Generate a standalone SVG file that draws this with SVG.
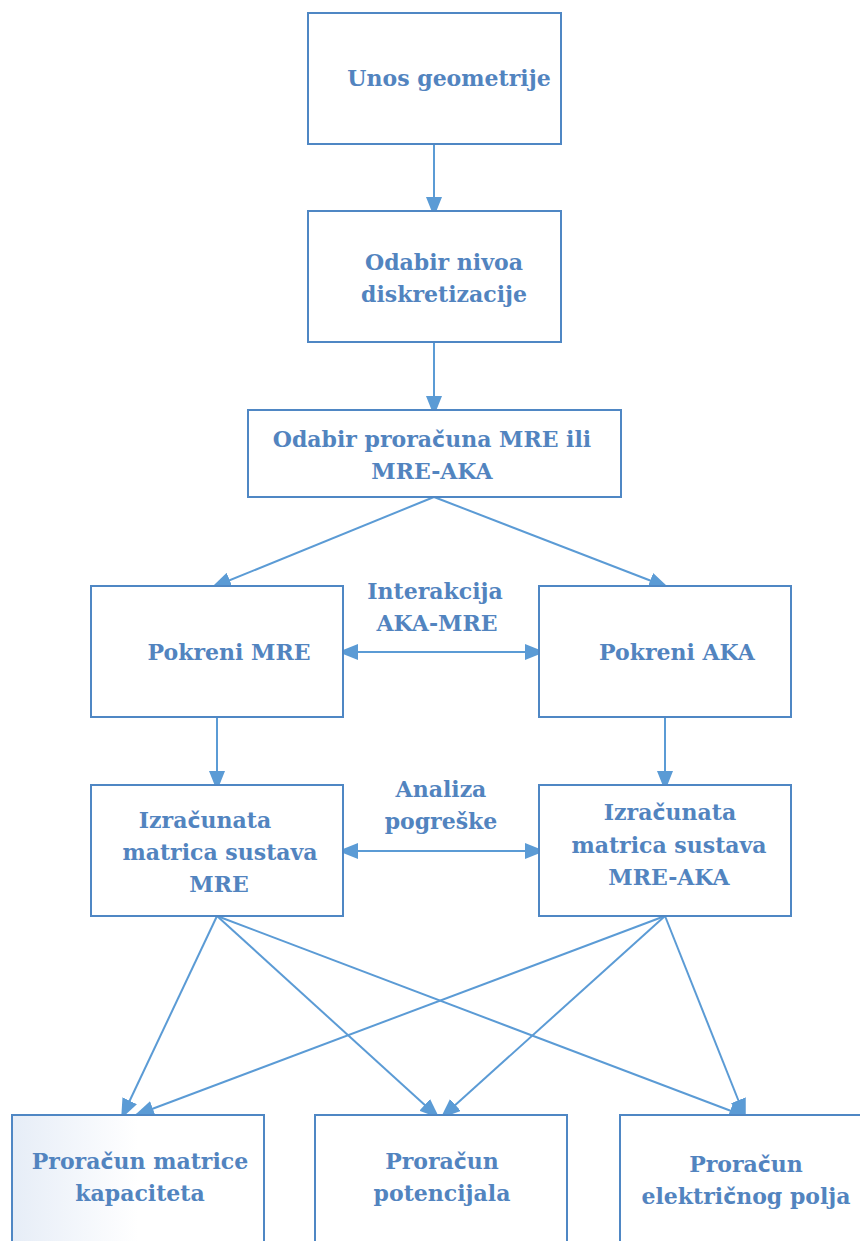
<svg xmlns="http://www.w3.org/2000/svg" width="860" height="1241" viewBox="0 0 860 1241">
<defs>
<style>
.box{fill:#fff;stroke:#4f87c4;stroke-width:2}
.t{font-family:"DejaVu Serif","Liberation Serif",serif;font-weight:bold;font-size:22px;fill:#5284bf;text-anchor:middle}
.c{font-family:"DejaVu Sans","Liberation Sans",sans-serif}
.ln{stroke:#5b9bd5;stroke-width:2;fill:none}
</style>
<marker id="ah" markerWidth="20" markerHeight="16" refX="18" refY="8" orient="auto" markerUnits="userSpaceOnUse">
<path d="M0,0 L20,8 L0,16 Z" fill="#5b9bd5"/>
</marker>
<marker id="as" markerWidth="20" markerHeight="16" refX="2" refY="8" orient="auto" markerUnits="userSpaceOnUse">
<path d="M20,0 L0,8 L20,16 Z" fill="#5b9bd5"/>
</marker>
<linearGradient id="g1" x1="0" y1="0" x2="1" y2="0">
<stop offset="0" stop-color="#e6edf7"/>
<stop offset="0.5" stop-color="#ffffff"/>
<stop offset="1" stop-color="#ffffff"/>
</linearGradient>
</defs>
<rect width="860" height="1241" fill="#fff"/>
<g id="connectors">
<line class="ln" x1="434" y1="144" x2="434" y2="215" marker-end="url(#ah)"/>
<line class="ln" x1="434" y1="342" x2="434" y2="414" marker-end="url(#ah)"/>
<line class="ln" x1="434" y1="497" x2="213" y2="587" marker-end="url(#ah)"/>
<line class="ln" x1="434" y1="497" x2="667" y2="587" marker-end="url(#ah)"/>
<line class="ln" x1="217" y1="717" x2="217" y2="789" marker-end="url(#ah)"/>
<line class="ln" x1="665" y1="717" x2="665" y2="789" marker-end="url(#ah)"/>
<line class="ln" x1="340" y1="652" x2="543" y2="652" marker-start="url(#as)" marker-end="url(#ah)"/>
<line class="ln" x1="340" y1="851" x2="543" y2="851" marker-start="url(#as)" marker-end="url(#ah)"/>
<line class="ln" x1="217" y1="916" x2="122" y2="1117" marker-end="url(#ah)"/>
<line class="ln" x1="217" y1="916" x2="438" y2="1117" marker-end="url(#ah)"/>
<line class="ln" x1="217" y1="916" x2="747" y2="1117" marker-end="url(#ah)"/>
<line class="ln" x1="665" y1="916" x2="136" y2="1115" marker-end="url(#ah)"/>
<line class="ln" x1="665" y1="916" x2="442" y2="1117" marker-end="url(#ah)"/>
<line class="ln" x1="665" y1="916" x2="745" y2="1117" marker-end="url(#ah)"/>
</g>
<g id="n1"><rect class="box" x="308" y="13" width="253" height="131"/><text class="t" x="449" y="86">Unos geometrije</text></g>
<g id="n2"><rect class="box" x="308" y="211" width="253" height="131"/><text class="t" x="444" y="270">Odabir nivoa</text><text class="t" x="444" y="302">diskretizacije</text></g>
<g id="n3"><rect class="box" x="248" y="410" width="373" height="87"/><text class="t" x="432" y="447">Odabir prora<tspan class="c">č</tspan>una MRE ili</text><text class="t" x="432" y="479">MRE-AKA</text></g>
<g id="n4"><rect class="box" x="91" y="586" width="252" height="131"/><text class="t" x="229" y="660">Pokreni MRE</text></g>
<g id="n5"><rect class="box" x="539" y="586" width="252" height="131"/><text class="t" x="677" y="660">Pokreni AKA</text></g>
<g id="l1"><text class="t" x="435" y="599">Interakcija</text><text class="t" x="437" y="631">AKA-MRE</text></g>
<g id="n6"><rect class="box" x="91" y="785" width="252" height="131"/><text class="t" x="205" y="828">Izra<tspan class="c">č</tspan>unata</text><text class="t" x="220" y="860">matrica sustava</text><text class="t" x="219" y="892">MRE</text></g>
<g id="n7"><rect class="box" x="539" y="785" width="252" height="131"/><text class="t" x="670" y="820">Izra<tspan class="c">č</tspan>unata</text><text class="t" x="669" y="853">matrica sustava</text><text class="t" x="669" y="885">MRE-AKA</text></g>
<g id="l2"><text class="t" x="441" y="797">Analiza</text><text class="t" x="441" y="829">pogreške</text></g>
<g id="n8"><rect x="12" y="1115" width="252" height="140" fill="url(#g1)" stroke="#4f87c4" stroke-width="2"/><text class="t" x="140" y="1169">Prora<tspan class="c">č</tspan>un matrice</text><text class="t" x="140" y="1201">kapaciteta</text></g>
<g id="n9"><rect class="box" x="315" y="1115" width="252" height="140"/><text class="t" x="442" y="1169">Prora<tspan class="c">č</tspan>un</text><text class="t" x="442" y="1201">potencijala</text></g>
<g id="n10"><rect class="box" x="620" y="1115" width="252" height="140"/><text class="t" x="746" y="1172">Prora<tspan class="c">č</tspan>un</text><text class="t" x="746" y="1204">elektri<tspan class="c">č</tspan>nog polja</text></g>
</svg>
